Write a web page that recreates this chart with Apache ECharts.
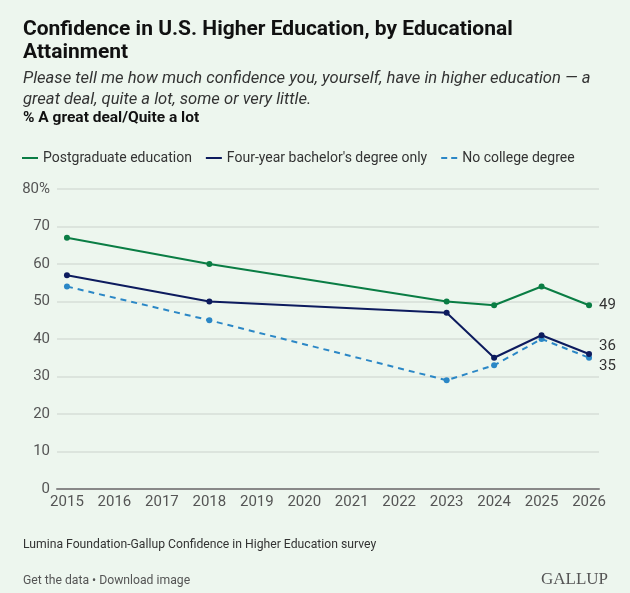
<!DOCTYPE html>
<html><head><meta charset="utf-8">
<script src="https://cdn.jsdelivr.net/npm/echarts@6/dist/echarts.min.js"></script>
<style>html,body{margin:0;padding:0;background:#edf6ee}#c{width:630px;height:593px}</style>
</head><body><div id="c"></div>
<script>
const years = [2015, 2018, 2023, 2024, 2025, 2026];
const tickYears = [2015,2016,2017,2018,2019,2020,2021,2022,2023,2024,2025,2026];
const postgrad = [67, 60, 50, 49, 54, 49];
const bachelor = [57, 50, 47, 35, 41, 36];
const noCollege = [54, 45, 29, 33, 40, 35];
const names = ['Postgraduate education', "Four-year bachelor's degree only", 'No college degree'];

const F = 'Roboto, "Noto Sans", sans-serif';
function pts(vals){ return years.map((y,i)=>[y, vals[i]]); }
function withEnd(vals, offY){
  const d = pts(vals);
  const last = d.length-1;
  return d.map((p,i)=> i===last ? {value:p, label:{show:true, position:'right', distance:7, offset:[0,offY], formatter:String(p[1]), color:'#333', fontSize:15, fontFamily:F}} : p);
}
const chart = echarts.init(document.getElementById('c'));
chart.setOption({
  backgroundColor:'#edf6ee',
  animation:false,
  title:[
    {text:'Confidence in U.S. Higher Education, by Educational\nAttainment', left:18, top:13,
     textStyle:{fontFamily:F, fontWeight:'bold', fontSize:21, color:'#111', lineHeight:23}},
    {text:'Please tell me how much confidence you, yourself, have in higher education — a\ngreat deal, quite a lot, some or very little.', left:18, top:63,
     textStyle:{fontFamily:F, fontStyle:'italic', fontWeight:'normal', fontSize:16.6, color:'#333', lineHeight:21}},
    {text:'% A great deal/Quite a lot', left:18, top:105,
     textStyle:{fontFamily:F, fontWeight:'bold', fontSize:15.5, color:'#111'}},
    {text:'Lumina Foundation-Gallup Confidence in Higher Education survey', left:18, top:534,
     textStyle:{fontFamily:F, fontWeight:'normal', fontSize:12.2, color:'#333'}},
    {text:'Get the data • Download image', left:18, top:570,
     textStyle:{fontFamily:F, fontWeight:'normal', fontSize:12.2, color:'#555'}},
    {text:'GALLUP', right:17, top:566,
     textStyle:{fontFamily:'"Liberation Serif", serif', fontWeight:'normal', fontSize:17, color:'#555'}}
  ],
  legend:{
    left:17, top:146, itemGap:14, itemWidth:16, itemHeight:2,
    textStyle:{fontFamily:F, fontSize:14, color:'#333'},
    data:[
      {name:names[0], icon:'rect'},
      {name:names[1], icon:'rect'},
      {name:names[2], icon:'path://M0,0H6V2H0ZM10,0H16V2H10Z'}
    ]
  },
  grid:{left:57, right:31, top:189, bottom:104},
  xAxis:{
    type:'value', min:2014.79, max:2026.21,
    axisLine:{show:true, lineStyle:{color:'#888', width:2}},
    axisTick:{show:false},
    splitLine:{show:false},
    axisLabel:{customValues:tickYears, formatter:v=>String(v), color:'#555', fontSize:15, fontFamily:F, margin:6}
  },
  yAxis:{
    type:'value', min:0, max:80, interval:10,
    axisLine:{show:false}, axisTick:{show:false},
    splitLine:{lineStyle:{color:'#d6ded7', width:1.5}},
    axisLabel:{formatter:v=> v===80 ? '80%' : String(v), color:'#555', fontSize:15, fontFamily:F, margin:7}
  },
  series:[
    {name:names[0], type:'line', data:withEnd(postgrad,0), symbol:'circle', symbolSize:6,
     itemStyle:{color:'#0a7d44'}, lineStyle:{color:'#0a7d44', width:2}, z:3},
    {name:names[1], type:'line', data:withEnd(bachelor,-8), symbol:'circle', symbolSize:6,
     itemStyle:{color:'#0d1b5e'}, lineStyle:{color:'#0d1b5e', width:2}, z:4},
    {name:names[2], type:'line', data:withEnd(noCollege,8), symbol:'circle', symbolSize:6,
     itemStyle:{color:'#2b87c6'}, lineStyle:{color:'#2b87c6', width:2, type:[6,5]}, z:2}
  ]
});
</script></body></html>
